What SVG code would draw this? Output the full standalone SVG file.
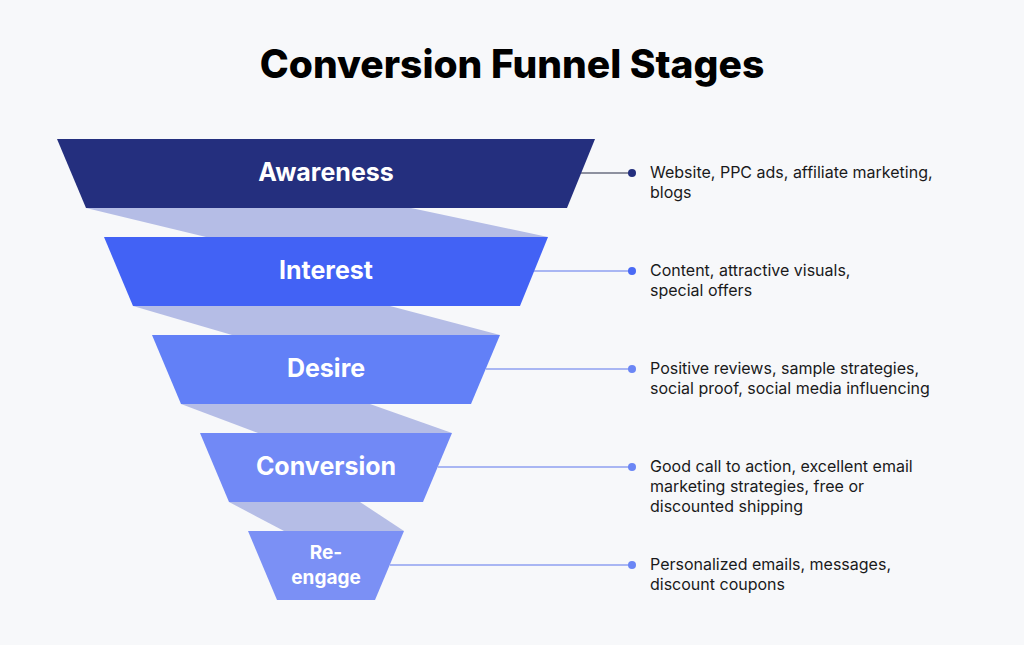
<svg xmlns="http://www.w3.org/2000/svg" width="1024" height="645" viewBox="0 0 1024 645">
<style>
.t{font-family:Inter,"Noto Sans",sans-serif;fill:#fff;font-weight:700;text-anchor:middle}
.d{font-family:Inter,"Noto Sans",sans-serif;fill:#1a1a1a;font-size:16px}
.band{fill:#b5bde6}
</style>
<rect width="1024" height="645" fill="#f7f8fa"/>
<text x="512" y="78" font-family="Inter,'Noto Sans',sans-serif" font-weight="800" font-size="39" text-anchor="middle" fill="#000">Conversion Funnel Stages</text>
<g id="bands">
<polygon class="band" points="86,208 411,208 548,237 206,237"/>
<polygon class="band" points="133,306 390,306 500,335 232,335"/>
<polygon class="band" points="181,404 370,404 452,433 258,433"/>
<polygon class="band" points="229,502 360,502 404,531 284,531"/>
</g>
<g id="connectors">
<line x1="581" y1="173" x2="632" y2="173" stroke="#6b6f80" stroke-width="1.3"/>
<circle cx="632" cy="173" r="4" fill="#242f7e"/>
<line x1="534" y1="271" x2="632" y2="271" stroke="#8fa0f0" stroke-width="1.3"/>
<circle cx="632" cy="271" r="4" fill="#4a6af5"/>
<line x1="486" y1="369" x2="632" y2="369" stroke="#8fa0f0" stroke-width="1.3"/>
<circle cx="632" cy="369" r="4" fill="#6b86f5"/>
<line x1="438" y1="467" x2="632" y2="467" stroke="#8fa0f0" stroke-width="1.3"/>
<circle cx="632" cy="467" r="4" fill="#6b86f5"/>
<line x1="390" y1="565" x2="632" y2="565" stroke="#8fa0f0" stroke-width="1.3"/>
<circle cx="632" cy="565" r="4" fill="#6b86f5"/>
</g>
<g id="awareness">
<polygon points="57,139 595,139 567,208 86,208" fill="#242f7e"/>
<text class="t" x="326" y="181" font-size="25">Awareness</text>
<text class="d" x="650" y="178">Website, PPC ads, affiliate marketing,</text>
<text class="d" x="650" y="198">blogs</text>
</g>
<g id="interest">
<polygon points="104,237 548,237 520,306 133,306" fill="#4262f5"/>
<text class="t" x="326" y="279" font-size="25">Interest</text>
<text class="d" x="650" y="276">Content, attractive visuals,</text>
<text class="d" x="650" y="296">special offers</text>
</g>
<g id="desire">
<polygon points="152,335 500,335 471,404 181,404" fill="#6280f7"/>
<text class="t" x="326" y="377" font-size="25">Desire</text>
<text class="d" x="650" y="374">Positive reviews, sample strategies,</text>
<text class="d" x="650" y="394">social proof, social media influencing</text>
</g>
<g id="conversion">
<polygon points="200,433 452,433 423,502 229,502" fill="#7189f6"/>
<text class="t" x="326" y="475" font-size="25">Conversion</text>
<text class="d" x="650" y="472">Good call to action, excellent email</text>
<text class="d" x="650" y="492">marketing strategies, free or</text>
<text class="d" x="650" y="512">discounted shipping</text>
</g>
<g id="reengage">
<polygon points="248,531 404,531 375,600 277,600" fill="#7b90f5"/>
<text class="t" x="326" y="559" font-size="19">Re-</text>
<text class="t" x="326" y="584" font-size="19">engage</text>
<text class="d" x="650" y="570">Personalized emails, messages,</text>
<text class="d" x="650" y="590">discount coupons</text>
</g>
</svg>
